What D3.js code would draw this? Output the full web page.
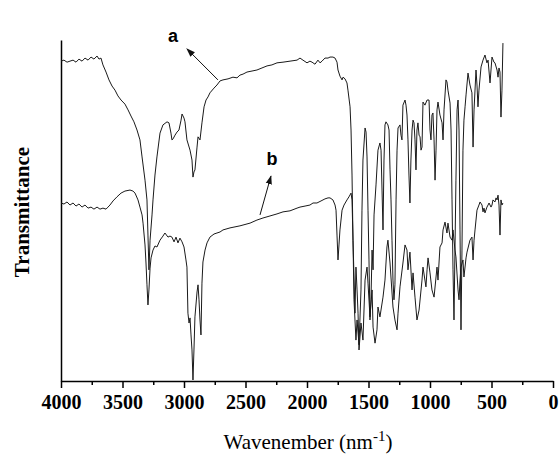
<!DOCTYPE html>
<html>
<head>
<meta charset="utf-8">
<script src="https://cdn.jsdelivr.net/npm/d3@7"></script>
<style>
  body { margin: 0; background: #fff; }
  .axis path, .axis line { stroke: #000; stroke-width: 1.5px; }
  .axis text { font-family: "Liberation Serif", "Times New Roman", serif; font-weight: bold; font-size: 20px; fill: #000; }
  .spectrum { fill: none; stroke: #1a1a1a; stroke-width: 1px; stroke-linejoin: round; }
</style>
</head>
<body>
<script>
var width = 559, height = 461;

// tick labels on the wavenumber axis
var majorTicks = [4000, 3500, 3000, 2500, 2000, 1500, 1000, 500, 0];
var minorTicks = [3750, 3250, 2750, 2250, 1750, 1250, 750, 250];

// spectrum a: [wavenumber, transmittance (a.u.)]
var specA = [
  [4000,93.8],[3976,94.1],[3951,93.5],[3927,93.8],[3902,94.1],[3878,93.5],[3854,94.4],[3829,93.8],
  [3805,94.7],[3780,94.1],[3756,95.0],[3732,94.4],[3707,95.3],[3691,94.4],[3675,94.7],[3659,92.7],
  [3634,90.6],[3610,88.3],[3585,86.5],[3561,85.3],[3537,83.6],[3512,82.4],[3480,81.2],[3455,79.5],
  [3431,77.7],[3407,76.0],[3382,73.6],[3358,70.7],[3341,65.7],[3317,58.9],[3301,53.1],[3293,42.8],
  [3285,32.6],[3276,41.3],[3260,48.7],[3252,53.1],[3236,60.4],[3220,65.7],[3195,72.7],[3171,75.1],
  [3138,76.0],[3122,75.7],[3106,72.7],[3098,70.7],[3089,71.0],[3073,72.1],[3057,73.0],[3041,73.6],
  [3024,76.5],[3016,78.3],[3000,77.1],[2992,76.0],[2976,70.7],[2951,67.7],[2935,64.8],[2927,59.8],
  [2919,61.3],[2911,61.9],[2894,68.6],[2886,71.6],[2870,70.7],[2854,75.7],[2837,80.4],[2821,82.4],
  [2805,83.3],[2789,84.5],[2756,85.9],[2732,86.8],[2707,88.0],[2683,88.3],[2642,88.6],[2602,89.1],
  [2569,88.9],[2545,89.7],[2520,90.0],[2488,90.6],[2447,90.9],[2407,91.2],[2366,91.8],[2325,92.4],
  [2285,92.7],[2244,93.3],[2195,93.5],[2138,93.8],[2081,94.1],[2057,94.7],[2033,94.1],[2000,93.3],
  [1976,93.8],[1959,93.5],[1935,92.9],[1911,94.1],[1894,93.3],[1878,93.8],[1854,94.7],[1829,94.7],
  [1813,95.0],[1789,95.0],[1772,94.7],[1756,93.5],[1748,91.2],[1732,89.4],[1715,88.3],[1707,89.1],
  [1691,88.6],[1675,87.4],[1667,85.3],[1650,80.4],[1642,73.6],[1634,60.4],[1626,41.3],[1618,23.8],
  [1602,12.0],[1593,17.9],[1577,10.6],[1561,26.7],[1553,50.1],[1545,64.8],[1528,74.2],[1520,73.0],
  [1512,65.7],[1504,50.1],[1496,35.5],[1488,17.9],[1480,23.8],[1471,38.4],[1463,32.6],[1455,48.7],
  [1439,57.5],[1423,67.7],[1407,69.8],[1398,67.7],[1390,56.0],[1382,44.3],[1374,64.8],[1366,75.1],
  [1358,76.0],[1342,75.1],[1333,73.6],[1325,61.9],[1317,53.1],[1309,41.3],[1301,29.6],[1293,23.8],
  [1285,28.2],[1276,53.1],[1268,67.7],[1260,74.2],[1244,75.1],[1236,72.1],[1228,70.7],[1220,80.9],
  [1203,82.4],[1195,80.9],[1187,78.0],[1179,70.7],[1171,60.4],[1163,52.2],[1155,64.8],[1146,73.6],
  [1138,76.5],[1130,75.7],[1122,70.7],[1114,61.9],[1106,73.6],[1098,75.7],[1089,72.1],[1081,71.6],
  [1073,67.7],[1065,68.6],[1057,81.8],[1041,80.9],[1024,82.4],[1008,82.4],[1000,73.6],[992,70.7],
  [984,78.0],[976,78.6],[967,70.7],[959,58.9],[951,67.7],[943,79.5],[935,81.8],[919,78.0],
  [902,75.7],[894,70.7],[886,79.5],[870,88.3],[862,87.7],[854,85.3],[837,81.5],[829,73.6],
  [821,53.1],[813,32.6],[805,17.9],[797,38.4],[789,58.9],[780,79.5],[772,82.4],[764,73.6],
  [756,44.3],[748,15.0],[740,38.4],[732,67.7],[724,76.5],[715,80.4],[707,83.9],[691,90.3],
  [675,86.8],[659,84.5],[650,68.6],[642,79.5],[626,91.2],[618,86.8],[610,80.4],[602,85.3],
  [585,92.1],[569,94.1],[553,95.6],[537,93.3],[528,94.1],[512,87.4],[504,91.2],[496,95.0],
  [480,93.5],[472,93.3],[455,91.2],[447,89.1],[439,91.8],[431,90.6],[423,77.4],[415,85.3],[407,99.1]
];

// spectrum b
var specB = [
  [4000,52.2],[3976,51.9],[3951,52.5],[3927,51.6],[3902,52.2],[3878,51.3],[3854,51.9],[3829,51.0],
  [3805,51.6],[3780,50.7],[3756,51.0],[3732,50.4],[3707,51.0],[3683,50.4],[3659,50.7],[3634,50.4],
  [3618,51.0],[3602,51.6],[3577,52.8],[3545,54.0],[3512,55.1],[3480,55.7],[3439,56.0],[3415,55.7],
  [3398,55.1],[3374,53.1],[3358,51.0],[3341,48.7],[3333,46.3],[3317,39.9],[3309,34.6],[3301,28.2],
  [3293,22.3],[3285,26.7],[3276,33.1],[3268,36.1],[3252,38.4],[3236,39.6],[3220,39.3],[3195,41.3],
  [3171,42.5],[3155,43.4],[3130,42.2],[3114,42.5],[3098,42.2],[3081,40.8],[3065,42.2],[3049,40.5],
  [3033,41.9],[3016,40.8],[3000,39.3],[2984,35.5],[2976,33.4],[2968,19.9],[2959,17.0],[2951,18.5],
  [2943,13.5],[2935,9.1],[2927,0.3],[2919,9.1],[2911,18.8],[2894,26.1],[2886,28.2],[2878,23.8],
  [2870,17.9],[2862,13.5],[2854,28.7],[2846,34.9],[2829,38.4],[2813,40.5],[2789,42.2],[2756,43.1],
  [2732,43.4],[2707,43.7],[2683,44.3],[2626,44.9],[2545,45.5],[2463,46.3],[2407,47.2],[2358,47.8],
  [2301,48.4],[2244,49.0],[2195,49.6],[2138,49.9],[2081,50.7],[2057,51.0],[2016,51.3],[1976,51.6],
  [1951,52.2],[1919,52.2],[1886,52.8],[1854,53.4],[1829,53.7],[1813,53.7],[1789,53.1],[1772,51.6],
  [1764,50.1],[1756,42.8],[1748,35.5],[1740,39.9],[1732,44.3],[1715,50.1],[1699,51.6],[1675,53.1],
  [1659,54.0],[1642,55.1],[1634,53.1],[1626,41.3],[1610,19.9],[1602,33.4],[1593,26.7],[1585,19.9],
  [1577,9.1],[1561,17.0],[1545,12.0],[1528,29.6],[1512,33.4],[1504,28.7],[1488,18.8],[1471,26.7],
  [1463,15.8],[1447,11.1],[1431,15.0],[1423,21.7],[1407,18.8],[1382,24.6],[1366,29.6],[1350,39.3],
  [1342,41.3],[1325,34.6],[1301,21.7],[1285,17.9],[1268,15.0],[1260,19.9],[1244,27.6],[1220,34.6],
  [1203,39.9],[1187,38.4],[1179,32.6],[1163,37.8],[1146,26.7],[1138,31.7],[1122,24.6],[1106,17.9],
  [1089,20.8],[1065,29.6],[1057,33.4],[1033,27.6],[1024,32.6],[1016,36.1],[1000,31.7],[984,26.7],
  [967,24.6],[943,33.4],[935,29.6],[919,39.3],[902,40.5],[894,44.3],[878,46.6],[862,43.4],
  [854,46.3],[837,42.2],[821,41.3],[813,44.3],[797,38.4],[789,36.4],[772,26.7],[764,23.8],
  [756,29.6],[748,33.4],[732,35.5],[724,30.5],[707,36.1],[699,37.8],[675,41.3],[659,42.2],
  [650,35.5],[642,41.3],[634,44.3],[618,50.1],[602,51.6],[593,52.5],[577,51.6],[569,49.6],
  [561,50.7],[553,49.3],[537,51.0],[528,51.6],[520,52.2],[504,51.0],[496,51.6],[488,53.1],
  [472,52.5],[463,53.7],[455,53.1],[447,54.5],[439,51.6],[431,42.8],[423,53.1],[415,51.6],[407,52.2]
];

// curve labels with arrows
var labelNames = ["a", "b"];
var labelPos = [[3089, 99.4], [2285, 63.3]];
var arrowFrom = [[2724, 88.3], [2382, 48.7]];
var arrowTo = [[2976, 97.4], [2293, 60.1]];

var svg = d3.select("body").append("svg")
    .attr("width", width)
    .attr("height", height);

var x = d3.scaleLinear().domain([4000, 0]).range([61, 553]);
var y = d3.scaleLinear().domain([0, 100]).range([381, 40]);

svg.append("defs").append("marker")
    .attr("id", "arrow")
    .attr("viewBox", "0 0 10 10")
    .attr("refX", 9).attr("refY", 5)
    .attr("markerWidth", 9).attr("markerHeight", 9)
    .attr("markerUnits", "userSpaceOnUse")
    .attr("orient", "auto")
  .append("path")
    .attr("d", "M0,1.5L10,5L0,8.5Z")
    .attr("fill", "#111");

// minor ticks
svg.append("g")
    .attr("class", "axis")
    .attr("transform", "translate(0,381)")
    .call(d3.axisBottom(x).tickValues(minorTicks).tickSize(4).tickSizeOuter(0).tickFormat(""))
    .select(".domain").remove();

// major ticks + labels
svg.append("g")
    .attr("class", "axis")
    .attr("transform", "translate(0,381)")
    .call(d3.axisBottom(x).tickValues(majorTicks).tickSize(7).tickSizeOuter(0).tickPadding(7)
      .tickFormat(d3.format("d")));

// left axis, no ticks
svg.append("g")
    .attr("class", "axis")
    .attr("transform", "translate(61,0)")
    .call(d3.axisLeft(y).tickValues([]).tickSizeOuter(0));

var line = d3.line()
    .x(function(d) { return x(d[0]); })
    .y(function(d) { return y(d[1]); });

svg.append("path").datum(specB).attr("class", "spectrum").attr("d", line);
svg.append("path").datum(specA).attr("class", "spectrum").attr("d", line);

// labels and arrows
labelNames.forEach(function(name, i) {
  svg.append("line")
      .attr("x1", x(arrowFrom[i][0])).attr("y1", y(arrowFrom[i][1]))
      .attr("x2", x(arrowTo[i][0])).attr("y2", y(arrowTo[i][1]))
      .attr("stroke", "#111").attr("stroke-width", 1)
      .attr("marker-end", "url(#arrow)");
  svg.append("text")
      .attr("x", x(labelPos[i][0])).attr("y", y(labelPos[i][1]))
      .attr("text-anchor", "middle")
      .style("font-family", "'Liberation Sans', Arial, sans-serif")
      .style("font-weight", "bold")
      .style("font-size", "18px")
      .text(name);
});

// axis titles
var xt = svg.append("text")
    .attr("x", 308).attr("y", 449)
    .attr("text-anchor", "middle")
    .style("font-family", "'Liberation Serif', 'Times New Roman', serif")
    .style("font-size", "21px");
xt.append("tspan").text("Wavenember (nm");
xt.append("tspan").attr("dy", -8).style("font-size", "15px").text("-1");
xt.append("tspan").attr("dy", 8).text(")");

svg.append("text")
    .attr("transform", "translate(29,212) rotate(-90)")
    .attr("text-anchor", "middle")
    .style("font-family", "'Liberation Serif', 'Times New Roman', serif")
    .style("font-weight", "bold")
    .style("font-size", "21px")
    .text("Transmittance");
</script>
</body>
</html>
